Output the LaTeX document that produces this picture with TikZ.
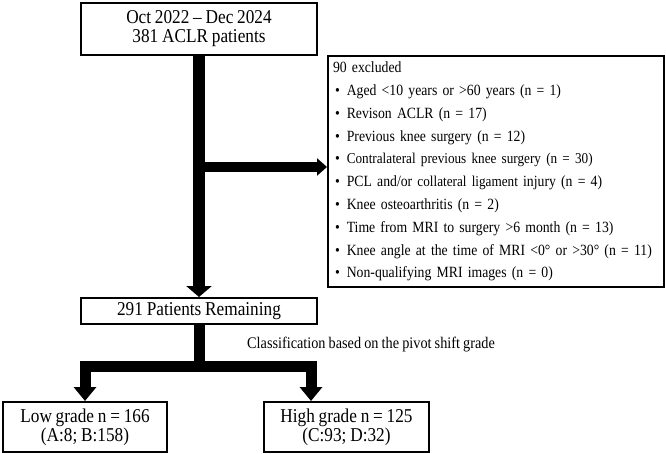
\documentclass[tikz,border=0pt]{standalone}
\usepackage{fontspec}
\setmainfont{Liberation Serif}[FakeStretch=0.88,WordSpace=0.88]
\usetikzlibrary{arrows.meta}
\newcommand{\itm}[1]{\hspace*{2pt}\textbullet\hspace{7pt}#1}
\newcommand{\thinpart}[1]{{\fontsize{15}{22.8}\selectfont #1}}

\begin{document}
\begin{tikzpicture}[x=1pt,y=-1pt]
\tikzstyle{box}=[draw,line width=2pt,inner sep=0pt,align=center,font=\fontsize{19.6}{19}\selectfont];
\tikzstyle{list}=[draw,line width=2pt,inner sep=0pt,align=left,font=\fontsize{15.6}{22.8}\selectfont];
\tikzstyle{note}=[inner sep=0pt,font=\fontsize{16.2}{18}\selectfont];
\useasboundingbox (0,0) rectangle (666,454);
\node[box,minimum width=236pt,minimum height=52pt] (start) at (199,29) {Oct 2022 -- Dec 2024\\381 ACLR patients};
\node[box,minimum width=236pt,minimum height=26pt] (rem) at (199,311) {291 Patients Remaining};
\node[box,minimum width=164pt,minimum height=50pt] (low) at (85,427) {Low grade n = 166\\(A:8; B:158)};
\node[box,minimum width=165pt,minimum height=50pt] (high) at (346.5,427) {High grade n = 125\\(C:93; D:32)};
\node[list,minimum width=336pt,minimum height=231pt,text width=326pt] (excl) at (496,171.5) {
90 excluded\\
\itm{Aged <10 years or >60 years (n = 1)}\\
\itm{Revison ACLR (n = 17)}\\
\itm{Previous knee surgery (n = 12)}\\
\itm{\thinpart{Contralateral previous knee surgery (n = 30)}}\\
\itm{PCL and/or \thinpart{collateral ligament} injury (n = 4)}\\
\itm{Knee osteoarthritis (n = 2)}\\
\itm{Time from MRI to surgery >6 month (n = 13)}\\
\itm{Knee angle at the time of MRI <0° or >30° (n = 11)}\\
\itm{Non-qualifying MRI images (n = 0)}};
\node[note,anchor=west] (grade) at (247,345) {Classification based on the pivot shift grade};
\coordinate (split) at (199,167);
\coordinate (fork) at (199,366);
\draw[line width=12pt,-{Triangle[width=25pt,length=11pt]}] (start) -- (rem);
\draw[line width=10pt,-{Triangle[width=17pt,length=10pt]}] (split) -- (split -| excl.west);
\draw[line width=11pt,-{Triangle[width=22pt,length=14pt]}] (rem) -- (fork) -| (low.north);
\draw[line width=11pt,-{Triangle[width=22pt,length=14pt]}] (rem) -- (fork) -| ([xshift=-35.5pt]high.north);
\end{tikzpicture}
\end{document}
